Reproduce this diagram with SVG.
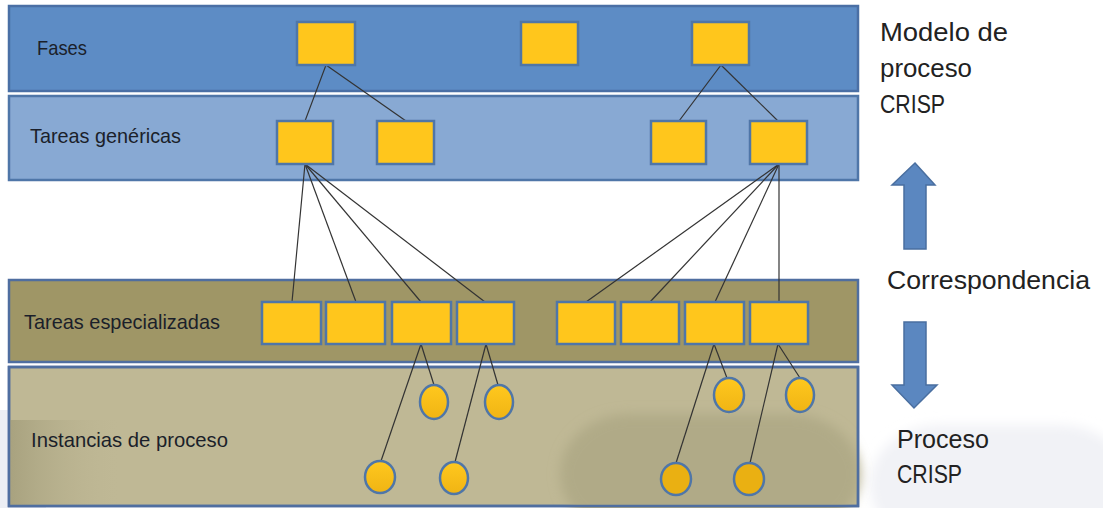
<svg xmlns="http://www.w3.org/2000/svg" width="1103" height="508" viewBox="0 0 1103 508">
<defs>
<style>
.band{stroke-width:2.5}
.box{fill:#ffc61c;stroke:#4f76a8;stroke-width:2.5}
.inst{fill:url(#ig);stroke:#4f76a8;stroke-width:2.5}
.lbl{font-family:"Liberation Sans",Arial,sans-serif;font-size:21px;fill:#1b1f2a}
.rt{font-family:"Liberation Sans",Arial,sans-serif;font-size:25px;fill:#222}
.conn line{stroke:#333;stroke-width:1.2}
.arrow{fill:#5b87c0;stroke:#4a6fa0;stroke-width:1.5}
</style>
<linearGradient id="ig" x1="0" y1="0" x2="0" y2="1">
<stop offset="0" stop-color="#ffc81e"/>
<stop offset="1" stop-color="#f0b414"/>
</linearGradient>
<linearGradient id="lsh" x1="0" y1="0" x2="1" y2="0">
<stop offset="0" stop-color="#a8a27f"/>
<stop offset="1" stop-color="#bdb693" stop-opacity="0"/>
</linearGradient>
<filter id="soft" x="-20%" y="-20%" width="140%" height="140%">
<feGaussianBlur stdDeviation="6"/>
</filter>
</defs>
<rect width="1103" height="508" fill="#ffffff"/>
<!-- faint background watermark -->
<rect x="870" y="425" width="260" height="120" rx="70" fill="#f1f2f6" filter="url(#soft)"/>
<rect x="-40" y="410" width="90" height="120" rx="40" fill="#eceef4"/>

<g id="band-fases">
<rect class="band" x="9" y="6" width="849" height="85" fill="#5d8cc5" stroke="#4a6fa5"/>
<text class="lbl" x="37" y="55" textLength="50" lengthAdjust="spacingAndGlyphs">Fases</text>
</g>
<g id="band-genericas">
<rect class="band" x="9" y="96" width="849" height="84" fill="#88a9d3" stroke="#4f76a8"/>
<text class="lbl" x="30" y="143" textLength="151" lengthAdjust="spacingAndGlyphs">Tareas genéricas</text>
</g>
<g id="band-especializadas">
<rect class="band" x="9" y="280" width="849" height="82" fill="#9f9666" stroke="#4f6ea0"/>
<text class="lbl" x="24" y="329" textLength="196" lengthAdjust="spacingAndGlyphs">Tareas especializadas</text>
</g>
<g id="band-instancias">
<rect class="band" x="9" y="367" width="849" height="139" fill="#bfb895" stroke="#4f6ea0"/>
<rect x="10" y="420" width="110" height="85" fill="url(#lsh)"/>
<rect x="560" y="414" width="300" height="120" rx="70" fill="#b0aa87" filter="url(#soft)"/>
<rect x="9" y="367" width="849" height="139" fill="none" stroke="#4f6ea0" stroke-width="2.5"/>
<text class="lbl" x="31" y="447" textLength="197" lengthAdjust="spacingAndGlyphs">Instancias de proceso</text>
</g>

<g id="connectors" class="conn">
<line x1="326" y1="65" x2="305" y2="121"/>
<line x1="326" y1="65" x2="406" y2="121"/>
<line x1="721" y1="65" x2="679" y2="121"/>
<line x1="721" y1="65" x2="778" y2="121"/>
<line x1="305" y1="164" x2="292" y2="302"/>
<line x1="305" y1="164" x2="356" y2="302"/>
<line x1="305" y1="164" x2="421" y2="302"/>
<line x1="305" y1="164" x2="485" y2="302"/>
<line x1="779" y1="164" x2="586" y2="302"/>
<line x1="779" y1="164" x2="650" y2="302"/>
<line x1="779" y1="164" x2="715" y2="302"/>
<line x1="779" y1="164" x2="779" y2="302"/>
<line x1="421" y1="344" x2="434" y2="385"/>
<line x1="421" y1="344" x2="381" y2="461"/>
<line x1="486" y1="344" x2="498" y2="385"/>
<line x1="486" y1="344" x2="455" y2="462"/>
<line x1="714" y1="344" x2="727" y2="378"/>
<line x1="714" y1="344" x2="676" y2="463"/>
<line x1="778" y1="344" x2="800" y2="378"/>
<line x1="778" y1="344" x2="750" y2="463"/>
</g>

<g id="fase-1"><rect class="box" x="297" y="22" width="58" height="43"/></g>
<g id="fase-2"><rect class="box" x="521" y="22" width="57" height="43"/></g>
<g id="fase-3"><rect class="box" x="692" y="22" width="57" height="43"/></g>

<g id="gen-1"><rect class="box" x="277" y="121" width="56" height="43"/></g>
<g id="gen-2"><rect class="box" x="377" y="121" width="57" height="43"/></g>
<g id="gen-3"><rect class="box" x="651" y="121" width="55" height="43"/></g>
<g id="gen-4"><rect class="box" x="750" y="121" width="57" height="43"/></g>

<g id="esp-1"><rect class="box" x="262" y="302" width="59" height="42"/></g>
<g id="esp-2"><rect class="box" x="326" y="302" width="59" height="42"/></g>
<g id="esp-3"><rect class="box" x="392" y="302" width="59" height="42"/></g>
<g id="esp-4"><rect class="box" x="457" y="302" width="57" height="42"/></g>
<g id="esp-5"><rect class="box" x="557" y="302" width="58" height="42"/></g>
<g id="esp-6"><rect class="box" x="621" y="302" width="58" height="42"/></g>
<g id="esp-7"><rect class="box" x="685" y="302" width="59" height="42"/></g>
<g id="esp-8"><rect class="box" x="750" y="302" width="58" height="42"/></g>

<g id="inst-1"><ellipse class="inst" cx="434" cy="402" rx="14" ry="17"/></g>
<g id="inst-2"><ellipse class="inst" cx="499" cy="402" rx="14" ry="17"/></g>
<g id="inst-3"><ellipse class="inst" cx="729" cy="395" rx="15" ry="17"/></g>
<g id="inst-4"><ellipse class="inst" cx="800" cy="395" rx="14" ry="17"/></g>
<g id="inst-5"><ellipse class="inst" cx="380" cy="477" rx="15" ry="16"/></g>
<g id="inst-6"><ellipse class="inst" cx="454" cy="478" rx="14" ry="16"/></g>
<g id="inst-7"><ellipse class="inst" cx="676" cy="479" rx="15" ry="16" style="fill:#eab012"/></g>
<g id="inst-8"><ellipse class="inst" cx="749" cy="479" rx="15" ry="16" style="fill:#eab012"/></g>

<g id="label-modelo">
<text class="rt" x="880" y="41" textLength="128" lengthAdjust="spacingAndGlyphs">Modelo de</text>
<text class="rt" x="880" y="77" textLength="92" lengthAdjust="spacingAndGlyphs">proceso</text>
<text class="rt" x="880" y="113" textLength="65" lengthAdjust="spacingAndGlyphs">CRISP</text>
</g>
<g id="arrow-up"><path class="arrow" d="M915,163 L935,185 L926,185 L926,249 L904,249 L904,185 L892,185 Z"/></g>
<g id="label-corresp"><text class="rt" x="887" y="289" textLength="203" lengthAdjust="spacingAndGlyphs">Correspondencia</text></g>
<g id="arrow-down"><path class="arrow" d="M904,322 L926,322 L926,385 L937,385 L914,408 L892,385 L904,385 Z"/></g>
<g id="label-proceso">
<text class="rt" x="897" y="448" textLength="92" lengthAdjust="spacingAndGlyphs">Proceso</text>
<text class="rt" x="897" y="483" textLength="65" lengthAdjust="spacingAndGlyphs">CRISP</text>
</g>
</svg>
